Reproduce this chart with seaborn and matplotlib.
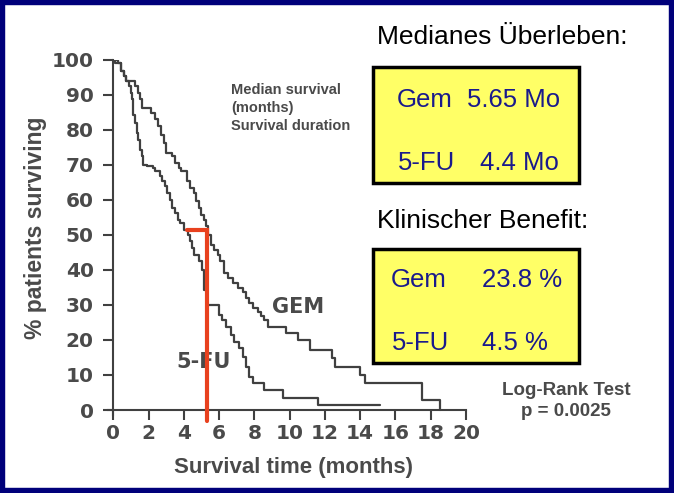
import matplotlib
matplotlib.use('Agg')
import matplotlib.pyplot as plt
from matplotlib.patches import Rectangle
import seaborn as sns
import pandas as pd

# Kaplan-Meier Kurven
gem_time = [0, 0.28, 0.44, 0.6, 0.7, 1.23, 1.39, 1.52, 1.61, 2.15, 2.37, 2.56, 2.72, 2.85,
            2.98, 3.32, 3.51, 3.70, 3.86, 4.18, 4.37, 4.56, 4.69, 4.84, 4.99, 5.13, 5.26,
            5.35, 5.53, 5.72, 5.91, 6.06, 6.29, 6.48, 6.76, 7.05, 7.33, 7.52, 7.71, 7.90,
            8.19, 8.38, 8.57, 8.76, 9.80, 10.46, 11.13, 12.40, 12.56, 14.00, 14.27, 17.49, 18.54]
gem_surv = [100, 99, 96.7, 95.2, 93.8, 92.4, 90.5, 88.6, 86.2, 84.8, 82.9, 81, 78.6, 76.2,
            73.3, 72.4, 70.5, 69, 68.1, 65.2, 63.3, 61.9, 59.5, 57.6, 55.7, 54.3, 52.4,
            50, 47.1, 45.7, 44.3, 42.4, 39, 37.6, 36.2, 34.8, 33.8, 31.9, 30.5, 29,
            28.1, 26.7, 25.7, 23.8, 21.9, 20, 17.1, 14.8, 12.4, 10, 7.6, 2.9, 0]

fu_time = [0, 0.12, 0.44, 0.6, 0.7, 0.89, 1.01, 1.08, 1.14, 1.23, 1.33, 1.42, 1.52, 1.61,
           1.71, 1.90, 2.28, 2.37, 2.66, 2.79, 2.91, 3.04, 3.23, 3.32, 3.51, 3.67, 3.80,
           3.99, 4.22, 4.33, 4.46, 4.60, 4.86, 5.05, 5.15, 5.30, 5.99, 6.17, 6.38, 6.66,
           6.85, 7.14, 7.33, 7.52, 7.71, 7.90, 8.57, 9.61, 11.60, 15.10]
fu_surv = [100, 99, 96.7, 95.2, 93.8, 92.4, 90.5, 88.6, 84.3, 81.9, 79, 77.1, 74.3, 72.4,
           70, 69.5, 69, 68.1, 66.7, 65.2, 63.8, 61.9, 60, 57.6, 56.2, 54.3, 53.3,
           51.4, 50, 48.1, 46.2, 44.3, 42.4, 40, 34.3, 30, 27.1, 25.7, 23.8, 21.4,
           19.5, 17.6, 15.2, 12.4, 9.5, 7.6, 5.7, 3.3, 1.4, 1.4]

# Median-Markierung
median_x0 = 4.2
median_x = 5.3
median_y = 51.5
median_floor = -3

x_ticks = list(range(0, 21, 2))
y_ticks = list(range(0, 101, 10))

W, H = 674, 493


def fx(px):
    return px / W


def fy(py):
    return 1 - py / H


sns.set_style('ticks')
plt.rcParams['font.family'] = ['DejaVu Sans']

grey = '#4a4a4a'
curve_col = '#404040'
red = '#e8411e'
navy = '#1a1a8c'
yellow = '#ffff66'

fig = plt.figure(figsize=(6.74, 4.93), dpi=100)
fig.patch.set_facecolor('white')
ax = fig.add_axes([fx(108), fy(415.3), fx(466) - fx(108), fy(59.5) - fy(415.3)])
ax.patch.set_alpha(0)

df = pd.concat([
    pd.DataFrame({'time': gem_time, 'surv': gem_surv, 'arm': 'GEM'}),
    pd.DataFrame({'time': fu_time, 'surv': fu_surv, 'arm': '5-FU'}),
])
sns.lineplot(data=df, x='time', y='surv', hue='arm',
             palette={'GEM': curve_col, '5-FU': curve_col},
             estimator=None, sort=False, drawstyle='steps-post',
             lw=1.6, legend=False, ax=ax)

ax.plot([median_x0, median_x, median_x], [median_y, median_y, median_floor],
        color=red, lw=3, clip_on=False, zorder=6, solid_joinstyle='miter')

ax.set_xlim(-0.3, 20)
ax.set_ylim(-1.5, 100)
for s in ['top', 'right']:
    ax.spines[s].set_visible(False)
ax.spines['left'].set_position(('data', 0))
ax.spines['bottom'].set_position(('data', 0))
for s in ['left', 'bottom']:
    ax.spines[s].set_linewidth(1.5)
    ax.spines[s].set_color(curve_col)
ax.set_xticks(x_ticks)
ax.set_yticks(y_ticks)
ax.tick_params(direction='out', length=7, width=1.5, color=curve_col,
               labelcolor=grey, labelsize=14.5)
ax.tick_params(axis='x', pad=3)
ax.tick_params(axis='y', pad=7)
for lab in ax.get_xticklabels() + ax.get_yticklabels():
    lab.set_fontweight('bold')
ax.set_xlabel('')
ax.set_ylabel('')

# Achsentitel
fig.text(fx(294), fy(467), 'Survival time (months)', ha='center', va='center',
         family=['Liberation Sans', 'DejaVu Sans'], weight='bold', size=16, color=grey)
fig.text(fx(36), fy(228), '% patients surviving', ha='center', va='center', rotation=90,
         family=['Liberation Sans', 'DejaVu Sans'], weight='bold', size=16.5, color=grey)

# Kurvenbeschriftungen
ax.text(10.48, 29.4, 'GEM', ha='center', va='center', weight='bold', size=15,
        color=grey, zorder=4)
ax.text(5.14, 13.7, '5-FU', ha='center', va='center', weight='bold', size=15,
        color=grey, zorder=4)

fig.text(fx(231), fy(108), 'Median survival\n(months)\nSurvival duration',
         ha='left', va='center', family=['Liberation Sans', 'DejaVu Sans'],
         weight='bold', size=10.5, color=grey, linespacing=1.35)

fig.text(fx(566), fy(395), 'Log-Rank Test', ha='center', va='baseline',
         family=['Liberation Sans', 'DejaVu Sans'], weight='bold', size=13.5, color=grey)
fig.text(fx(566), fy(416), 'p = 0.0025', ha='center', va='baseline',
         family=['Liberation Sans', 'DejaVu Sans'], weight='bold', size=13.5, color=grey)

# rechte Seite
right_font = ['Liberation Sans', 'DejaVu Sans']
fig.text(fx(377), fy(44), 'Medianes Überleben:', ha='left', va='baseline',
         family=right_font, size=19, color='black')
fig.text(fx(377), fy(228), 'Klinischer Benefit:', ha='left', va='baseline',
         family=right_font, size=19, color='black')

for top, bottom in [(67, 183), (249, 363)]:
    fig.add_artist(Rectangle((fx(373), fy(bottom)), fx(579) - fx(373), fy(top) - fy(bottom),
                             transform=fig.transFigure, facecolor=yellow,
                             edgecolor='black', lw=2.5, zorder=1))

box_texts = [
    (397, 107, 'Gem', 'left'), (560, 107, '5.65 Mo', 'right'),
    (398, 170, '5-FU', 'left'), (559, 170, '4.4 Mo', 'right'),
    (391, 287, 'Gem', 'left'), (482, 287, '23.8 %', 'left'),
    (392, 350, '5-FU', 'left'), (482, 350, '4.5 %', 'left'),
]
for px, py, txt, ha in box_texts:
    fig.text(fx(px), fy(py), txt, ha=ha, va='baseline', family=right_font,
             size=18.5, color=navy, zorder=3)

# blauer Rahmen
fig.add_artist(Rectangle((0, 0), 1, 1, transform=fig.transFigure, fill=False,
                         edgecolor='#00007a', lw=7.5, zorder=10))

fig.savefig('out.png', dpi=100)
plt.close(fig)
